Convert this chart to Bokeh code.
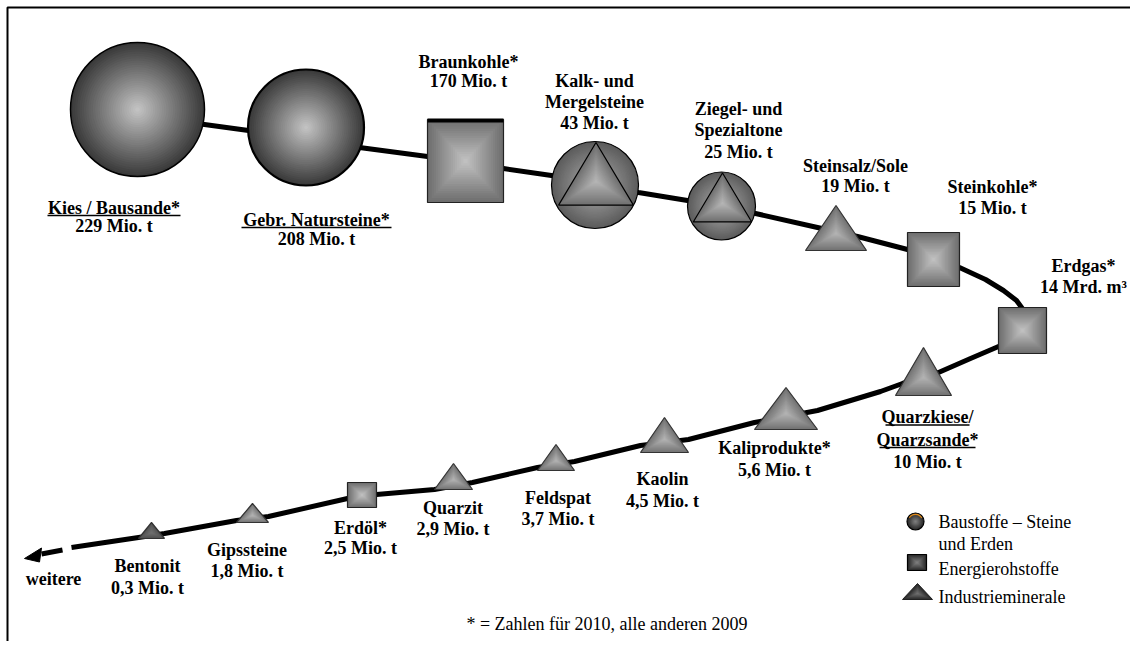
import numpy as np
from bokeh.plotting import figure
from bokeh.models import Range1d
from bokeh.core.properties import value
from bokeh.embed import file_html
from bokeh.resources import INLINE

# ---------------- data ----------------
minerals = ["Kies / Bausande*", "Gebr. Natursteine*", "Braunkohle*", "Kalk- und\nMergelsteine",
            "Ziegel- und\nSpezialtone", "Steinsalz/Sole", "Steinkohle*", "Erdgas*",
            "Quarzkiese/\nQuarzsande*", "Kaliprodukte*", "Kaolin", "Feldspat", "Quarzit",
            "Erdöl*", "Gipssteine", "Bentonit"]
amounts = ["229 Mio. t", "208 Mio. t", "170 Mio. t", "43 Mio. t", "25 Mio. t", "19 Mio. t",
           "15 Mio. t", "14 Mrd. m³", "10 Mio. t", "5,6 Mio. t", "4,5 Mio. t", "3,7 Mio. t",
           "2,9 Mio. t", "2,5 Mio. t", "1,8 Mio. t", "0,3 Mio. t"]
groups = ["bau", "bau", "energie", "bau_ind", "bau_ind", "ind", "energie", "energie",
          "ind", "ind", "ind", "ind", "ind", "energie", "ind", "ind_dark"]
underlined = [True, True, False, False, False, False, False, False,
              True, False, False, False, False, False, False, False]
legend_labels = ["Baustoffe – Steine\nund Erden", "Energierohstoffe", "Industrieminerale"]
footnote = "* = Zahlen für 2010, alle anderen 2009"
more_label = "weitere"

# ---------------- layout (page pixels) ----------------
shape_x = [137, 305.5, 465, 594.5, 721, 835.5, 933, 1022, 923, 785.5, 664, 555.5, 453, 361.5, 252, 151]
shape_y = [109, 127, 160.5, 184.5, 205.5, 227.5, 259, 330, 371, 408, 434.5, 457, 476, 494.5, 512.5, 530]
shape_w = [134, 116, 76, 87, 68, 61, 52, 48, 56, 63, 48, 37, 38, 29, 32, 26]
shape_h = [134, 116, 83, 87, 68, 45, 54, 46, 48, 42, 35, 26, 26, 25, 19, 16]
label_x = [113.5, 316, 468, 594, 738, 855, 992, 1083, 927, 774, 662, 557.5, 452.5, 360, 246.5, 147]
label_y = [207, 219, 61.5, 80, 108, 165, 186, 265, 416.5, 447, 478, 497, 507, 527, 549, 565]
label_step = [18, 19, 19, 21, 21.5, 20, 21, 21, 22.5, 22, 22, 21, 21, 20, 21, 22]
underline_half = {"Kies / Bausande*": 66.5, "Gebr. Natursteine*": 75,
                  "Quarzkiese/": 42, "Quarzsande*": 48}

path_x = [150, 204, 248, 359, 427, 503, 551, 638, 687, 755, 817, 857, 907, 959, 985, 1003,
          1016, 1024, 1025, 1010, 998, 970, 938, 902, 880, 817, 754, 688, 640, 574, 537,
          472, 434, 376, 347, 268, 236, 164, 138, 71]
path_y = [119, 124, 130, 147, 156, 168, 175, 192, 200, 213, 227, 236, 249, 267, 279, 290,
          300, 311, 320, 338, 346, 358, 372, 383, 391, 410, 422, 439, 445, 461, 467,
          482, 489, 494, 498, 516, 520, 533, 537, 547]

W, H = 1130, 641
p = figure(width=W, height=H, x_range=Range1d(0, W), y_range=Range1d(H, 0),
           output_backend="svg", toolbar_location=None, min_border=0)
p.axis.visible = False
p.grid.visible = False
p.outline_line_color = None
p.background_fill_color = "white"
p.border_fill_color = "white"

FONT = value("Liberation Serif")


def hx(c):
    return tuple(int(c[i:i + 2], 16) for i in (1, 3, 5))


def mix(c1, c2, t):
    a, b = hx(c1), hx(c2)
    return "#%02x%02x%02x" % tuple(int(round(x + (y - x) * t)) for x, y in zip(a, b))


def rings(n, outer, inner, gamma=1.0):
    scales, cols = [], []
    for k in range(n):
        s = 1 - k / n
        t = (k / (n - 1)) ** gamma
        scales.append(s)
        cols.append(mix(outer, inner, t))
    return scales, cols


def grad_circle(cx, cy, r, outer, inner, n=30, lw=1.5, lc="black"):
    sc, cols = rings(n, outer, inner)
    p.circle(x=[cx] * n, y=[cy] * n, radius=[r * s for s in sc], fill_color=cols, line_color=None)
    p.circle(x=[cx], y=[cy], radius=[r], fill_color=None, line_color=lc, line_width=lw)


def grad_rect(cx, cy, w, h, outer, inner, n=18, lw=1.2, lc="#222222"):
    sc, cols = rings(n, outer, inner)
    p.rect(x=[cx] * n, y=[cy] * n, width=[w * s for s in sc], height=[h * s for s in sc],
           fill_color=cols, line_color=None)
    p.rect(x=[cx], y=[cy], width=[w], height=[h], fill_color=None, line_color=lc, line_width=lw)


def grad_tri(cx, cy, w, h, outer, inner, n=16, lw=1.2, lc="#333333"):
    top, base = cy - h / 2, cy + h / 2
    ox, oy = cx, top + 0.62 * h
    vx = np.array([cx, cx - w / 2, cx + w / 2])
    vy = np.array([top, base, base])
    sc, cols = rings(n, outer, inner)
    xs = [list(ox + (vx - ox) * s) for s in sc]
    ys = [list(oy + (vy - oy) * s) for s in sc]
    p.patches(xs=xs, ys=ys, fill_color=cols, line_color=None)
    p.patch(x=list(vx), y=list(vy), fill_color=None, line_color=lc, line_width=lw)


# frame (top and left edge visible)
p.line(x=[7, 7, 1140], y=[660, 7, 7], line_color="black", line_width=2)

# path
p.line(x=path_x, y=path_y, line_color="black", line_width=5, line_join="round")
p.line(x=[62, 41], y=[549.5, 553.5], line_color="black", line_width=5)
p.patch(x=[24, 41, 39], y=[558, 547.5, 561.5], fill_color="black", line_color="black")

# shapes
for i, g in enumerate(groups):
    cx, cy, w, h = shape_x[i], shape_y[i], shape_w[i], shape_h[i]
    if g == "bau":
        grad_circle(cx, cy, w / 2, "#3a3a3a", "#c2c2c2", lw=1.5 if i == 0 else 2.2)
    elif g == "bau_ind":
        grad_circle(cx, cy, w / 2, "#5c5c5c", "#aeaeae", lw=1.2)
        th = 0.72 * h
        grad_tri(cx + 1, cy - h / 2 + 1 + th / 2, 0.86 * w, th, "#707070", "#b4b4b4", lw=1.2, lc="black")
    elif g == "energie":
        grad_rect(cx, cy, w, h, "#6e6e6e", "#c0c0c0")
        if i == 2:
            p.line(x=[cx - w / 2, cx + w / 2], y=[cy - h / 2 + 1, cy - h / 2 + 1],
                   line_color="black", line_width=4)
    elif g == "ind":
        grad_tri(cx, cy, w, h, "#737373", "#b2b2b2")
    else:
        grad_tri(cx, cy, w, h, "#505050", "#707070")

# labels
lx, ly, lt = [], [], []
ux0, ux1, uy = [], [], []
for i in range(len(minerals)):
    lines = minerals[i].split("\n") + [amounts[i]]
    for j, t in enumerate(lines):
        yy = label_y[i] + j * label_step[i]
        lx.append(label_x[i]); ly.append(yy); lt.append(t)
        if underlined[i] and j < len(lines) - 1:
            hw = underline_half[t]
            ux0.append(label_x[i] - hw); ux1.append(label_x[i] + hw); uy.append(yy + 8)
p.text(x=lx, y=ly, text=lt, text_font=FONT, text_font_style="bold", text_font_size="18px",
       text_align="center", text_baseline="middle", text_color="black")
p.segment(x0=ux0, y0=uy, x1=ux1, y1=uy, line_color="black", line_width=1.5)

p.text(x=[53], y=[578], text=[more_label], text_font=FONT, text_font_style="bold",
       text_font_size="18px", text_align="center", text_baseline="middle", text_color="black")

# legend
grad_circle(915, 521, 8.5, "#2a2a2a", "#7c7c7c", n=10, lw=1.2)
p.arc(x=[915], y=[521], radius=7.2, start_angle=0.5, end_angle=2.6, line_color="#e08a1a",
      line_width=1.2)
grad_rect(916.5, 562, 19, 16, "#2a2a2a", "#7c7c7c", n=10, lw=1.2, lc="black")
grad_tri(917, 591, 30, 16, "#2a2a2a", "#6e6e6e", n=10, lw=1.0, lc="#222222")
leg_lines = legend_labels[0].split("\n") + legend_labels[1:]
p.text(x=[938] * 4, y=[521, 543, 568, 596], text=leg_lines, text_font=FONT,
       text_font_size="18px", text_align="left", text_baseline="middle", text_color="black")

# footnote
p.text(x=[606.5], y=[623], text=[footnote], text_font=FONT, text_font_size="18px",
       text_align="center", text_baseline="middle", text_color="black")

open("out.html", "w").write(file_html(p, INLINE))
